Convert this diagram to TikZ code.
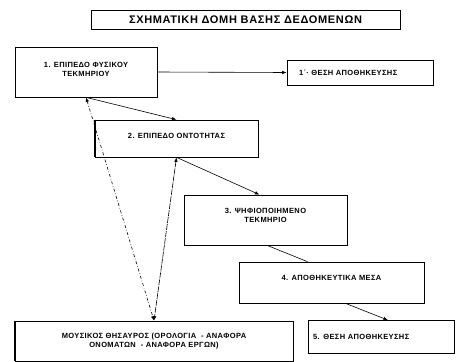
\documentclass[tikz,border=0pt]{standalone}
\usepackage{fontspec}
\setmainfont{Liberation Sans}
\usetikzlibrary{arrows.meta}
\tikzset{
  box/.style={draw=black, line width=0.7pt, font=\fontsize{7.5}{9}\selectfont\bfseries\addfontfeatures{LetterSpace=5}, align=center, inner sep=2pt},
  arr/.style={-{Latex[length=4.5pt,width=3.5pt]}, line width=0.6pt},
  link/.style={line width=0.6pt}
}

\begin{document}
\begin{tikzpicture}[x=1pt,y=-1pt]
			%%%%% START %%%%%
			\useasboundingbox (0,0) rectangle (456,362);
			
			\node[box, minimum width=309pt, minimum height=19pt, font=\fontsize{11}{12}\selectfont\bfseries\addfontfeatures{LetterSpace=6}] (title) at (245.5,19.5) {ΣΧΗΜΑΤΙΚΗ ΔΟΜΗ ΒΑΣΗΣ ΔΕΔΟΜΕΝΩΝ};
			
			\node[box, minimum width=142pt, minimum height=50pt, text depth=6pt] (fysiko) at (86,72) {1. ΕΠΙΠΕΔΟ ΦΥΣΙΚΟΥ\\ΤΕΚΜΗΡΙΟΥ};
			\node[box, text width=122pt, align=left, inner xsep=12pt, minimum height=25pt] (thesi1) at (360,72.5) {1΄· ΘΕΣΗ ΑΠΟΘΗΚΕΥΣΗΣ};
			
			\node[box, minimum width=163pt, minimum height=37pt, text depth=5pt] (ontotita) at (176.5,138.5) {2. ΕΠΙΠΕΔΟ ΟΝΤΟΤΗΤΑΣ};
			\draw[line width=1.4pt] (ontotita.north west) -- (ontotita.south west);
			
			\node[box, minimum width=163pt, minimum height=50pt, text depth=10pt] (psifio) at (265.5,220) {3. ΨΗΦΙΟΠΟΙΗΜΕΝΟ\\ΤΕΚΜΗΡΙΟ};
			
			\node[box, minimum width=185pt, minimum height=41pt, text depth=10pt] (mesa) at (331.5,282.5) {4. ΑΠΟΘΗΚΕΥΤΙΚΑ ΜΕΣΑ};
			
			\node[box, text width=136pt, align=left, inner xsep=5pt, minimum height=33pt] (thesi5) at (381,337) {5. ΘΕΣΗ ΑΠΟΘΗΚΕΥΣΗΣ};
			
			\node[box, minimum width=278pt, minimum height=40pt] (thisavros) at (154,341) {ΜΟΥΣΙΚΟΣ ΘΗΣΑΥΡΟΣ (ΟΡΟΛΟΓΙΑ\ \ - ΑΝΑΦΟΡΑ\\ΟΝΟΜΑΤΩΝ\ \ - ΑΝΑΦΟΡΑ ΕΡΓΩΝ)};
			\draw[line width=1.4pt] (thisavros.north west) -- (thisavros.south west);
			
			% connectors
			\draw[arr] (fysiko.east) -- (thesi1.west);
			\draw[arr] (fysiko.south) -- (ontotita.north);
			\draw[arr, {Latex[length=4.5pt,width=3.5pt]}-{Latex[length=4.5pt,width=3.5pt]}, dash dot] (fysiko.south) -- (thisavros.north);
			\draw[arr, {Latex[length=4.5pt,width=3.5pt]}-{Latex[length=4.5pt,width=3.5pt]}, dash pattern=on 6pt off 1pt] (ontotita.south) -- (thisavros.north);
			\draw[arr] (ontotita.south) -- ([xshift=-6pt]psifio.north);
			\draw[link] ([xshift=1.5pt]psifio.south) -- ([xshift=-24pt]mesa.north);
			\draw[arr] ([xshift=14pt]mesa.south) -- ([xshift=7pt]thesi5.north);
			%%%%% END %%%%%
		\end{tikzpicture}
\end{document}
